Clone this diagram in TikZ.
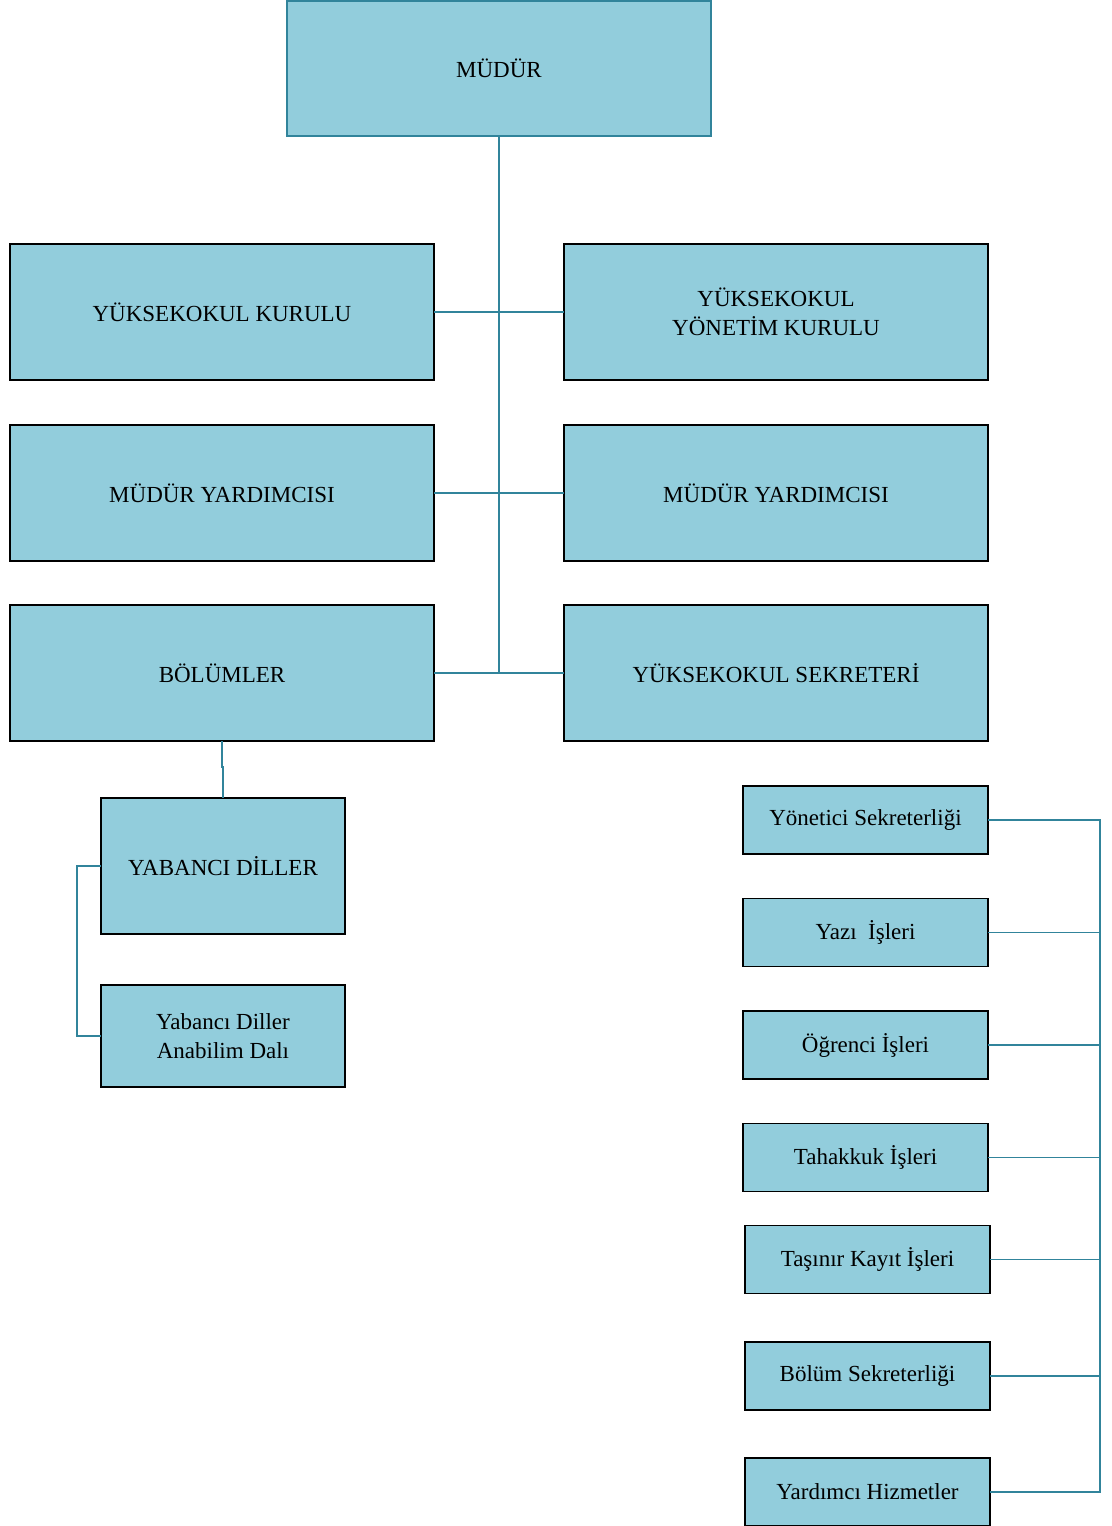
\documentclass[tikz,border=0pt]{standalone}
\usepackage{fontspec}
\setmainfont{Liberation Serif}
\begin{document}
\begin{tikzpicture}[x=0.5pt,y=-0.5pt,
    unitbox/.style={draw=black, line width=0.8pt, fill=boxcolor, inner sep=0pt, outer sep=0pt,
        align=center, font=\fontsize{11.5}{14.5}\selectfont, minimum width=212pt, minimum height=68pt},
    subbox/.style={unitbox, minimum width=122.5pt, minimum height=34pt},
    link/.style={draw=linecolor, line width=0.7pt}]
        % Define colors
        \definecolor{boxcolor}{RGB}{146,205,220} % light aqua
        \definecolor{linecolor}{RGB}{49,132,155}  % teal

        \useasboundingbox (0,0) rectangle (1112,1526);

        % Top
        \node[unitbox, draw=linecolor, minimum height=67.5pt] (mudur) at (499,68.5) {MÜDÜR};

        % Left column
        \node[unitbox] (kurul) at (222,312) {YÜKSEKOKUL KURULU};
        \node[unitbox] (yardl) at (222,493) {MÜDÜR YARDIMCISI};
        \node[unitbox] (bolum) at (222,673) {BÖLÜMLER};

        % Right column
        \node[unitbox] (ykurul) at (776,312) {YÜKSEKOKUL\\YÖNETİM KURULU};
        \node[unitbox] (yardr) at (776,493) {MÜDÜR YARDIMCISI};
        \node[unitbox] (sekreter) at (776,673) {YÜKSEKOKUL SEKRETERİ};

        % Departments
        \node[unitbox, minimum width=122pt] (diller) at (223,866) {YABANCI DİLLER};
        \node[unitbox, minimum width=122pt, minimum height=51pt] (anabilim) at (223,1036) {Yabancı Diller\\Anabilim Dalı};

        % Secretary units
        \node[subbox] (yonetici) at (865.5,820) {Yönetici Sekreterliği};
        \node[subbox] (yazi) at (865.5,932.5) {Yazı\ \ İşleri};
        \node[subbox] (ogrenci) at (865.5,1045) {Öğrenci İşleri};
        \node[subbox] (tahakkuk) at (865.5,1157.5) {Tahakkuk İşleri};
        \node[subbox] (tasinir) at (867.5,1259.5) {Taşınır Kayıt İşleri};
        \node[subbox] (bsekreter) at (867.5,1376) {Bölüm Sekreterliği};
        \node[subbox] (yardimci) at (867.5,1492) {Yardımcı Hizmetler};

        % Main line
        \coordinate (trunk) at (499,673);
        \draw[link] (mudur.south) -- (trunk);
        \draw[link] (kurul.east) -- (ykurul.west);
        \draw[link] (yardl.east) -- (yardr.west);
        \draw[link] (bolum.east) -- (sekreter.west);

        % Departments lines
        \draw[link] (bolum.south) -- ++(0,26) -| (diller.north);
        \draw[link] (diller.west) -- ++(-24,0) |- (anabilim.west);

        % Secretary bus
        \coordinate (bus) at (1100,0);
        \draw[link] (yonetici.east) -- (yonetici.east -| bus) -- (yardimci.east -| bus) -- (yardimci.east);
        \draw[link] (yazi.east) -- (yazi.east -| bus);
        \draw[link] (ogrenci.east) -- (ogrenci.east -| bus);
        \draw[link] (tahakkuk.east) -- (tahakkuk.east -| bus);
        \draw[link] (tasinir.east) -- (tasinir.east -| bus);
        \draw[link] (bsekreter.east) -- (bsekreter.east -| bus);
    \end{tikzpicture}
\end{document}
